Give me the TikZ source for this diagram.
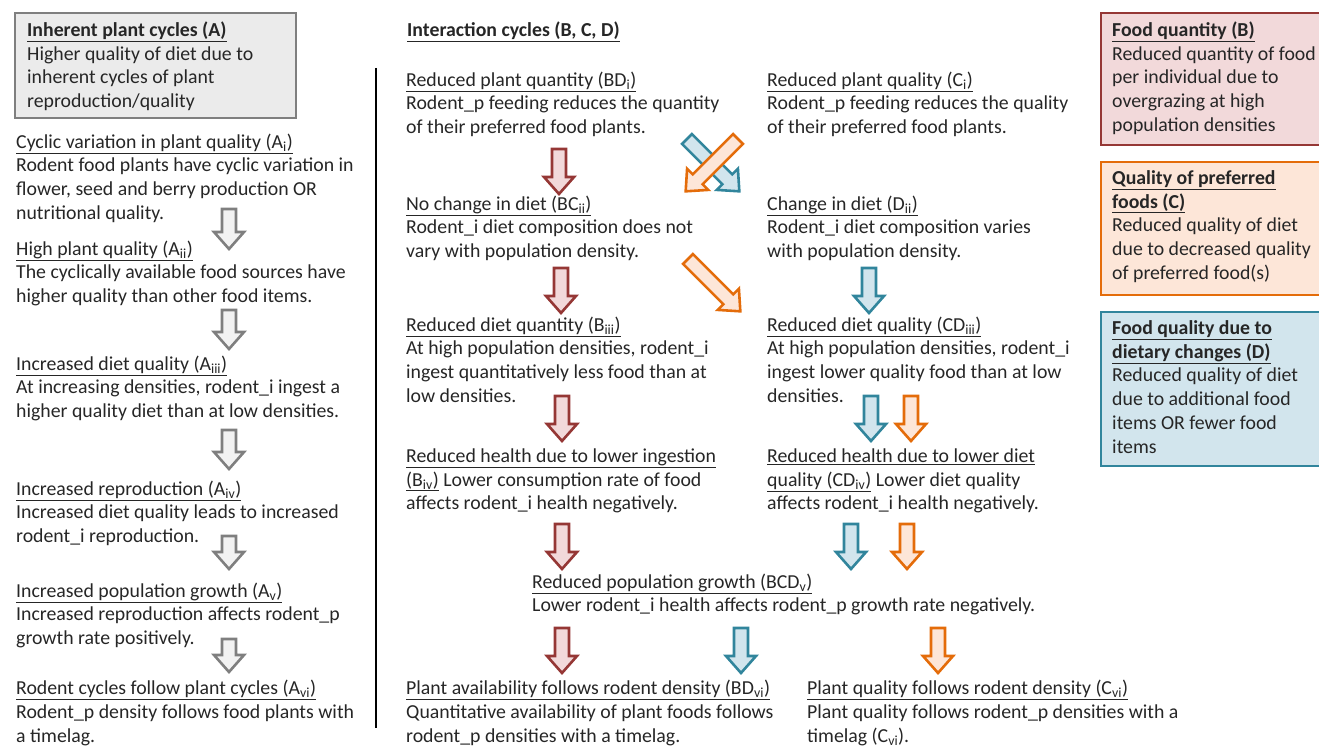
\documentclass[tikz,border=0pt]{standalone}
\usepackage{fontspec}
\setmainfont{Carlito}
\usepackage{tikz}
\usepackage{xcolor}

\definecolor{txtgray}{HTML}{262626}
\definecolor{grayline}{HTML}{7F7F7F}
\definecolor{grayfill}{HTML}{F2F2F2}
\definecolor{grayboxfill}{HTML}{EBEBEB}
\definecolor{redline}{HTML}{953735}
\definecolor{redfill}{HTML}{F2D9DA}
\definecolor{orangeline}{HTML}{E46C0A}
\definecolor{orangefill}{HTML}{FDE6D8}
\definecolor{blueline}{HTML}{31859C}
\definecolor{bluefill}{HTML}{D2E5ED}

\newcommand{\fs}{\fontsize{19.8}{23.7}\selectfont}
\newcommand{\ttl}[1]{\underline{#1}}
\newcommand{\lo}[1]{\textsubscript{#1}}

% Blockpfeil: Stil, x, y, Winkel, Laenge
\newcommand{\blockarrow}[5]{%
\begin{scope}[shift={(#2,#3)}, rotate=#4]
\draw[#1] (0,-7) -- ({#5-17},-7) -- ({#5-17},-15) -- (#5,0)
  -- ({#5-17},15) -- ({#5-17},7) -- (0,7) -- cycle;
\end{scope}}

\tikzset{
  txt/.style={anchor=north west, inner sep=0pt, align=left, font=\fs, text=txtgray},
  grayarr/.style={draw=grayline, fill=grayfill, line width=2.6pt, line join=miter},
  redarr/.style={draw=redline, fill=redfill, line width=2.6pt, line join=miter},
  bluearr/.style={draw=blueline, fill=bluefill, line width=2.6pt, line join=miter},
  orangearr/.style={draw=orangeline, fill=orangefill, line width=2.6pt, line join=miter}
}

\begin{document}
\begin{tikzpicture}[x=1pt, y=-1pt]
\useasboundingbox (0,0) rectangle (1319,746);

% Kaesten
\draw[grayline, fill=grayboxfill, line width=2.6pt] (15,13) rectangle (296,118);
\draw[redline, fill=redfill, line width=2.6pt] (1101,13) rectangle (1340,145);
\draw[orangeline, fill=orangefill, line width=2.6pt] (1101,162) rectangle (1340,295);
\draw[blueline, fill=bluefill, line width=2.6pt] (1101,312) rectangle (1340,466);

\draw[black, line width=1.8pt] (376,68) -- (376,728);

% linke Spalte (A)
\node[txt] (boxA) at (27,21.5) {\textbf{\ttl{Inherent plant cycles (A)}}\\ Higher quality of diet due to\\ inherent cycles of plant\\ reproduction/quality};
\node[txt] (a1) at (16,133.5) {\ttl{Cyclic variation in plant quality (A\lo{i})}\\ Rodent food plants have cyclic variation in\\ flower, seed and berry production OR\\ nutritional quality.};
\node[txt] (a2) at (16,240.5) {\ttl{High plant quality (A\lo{ii})}\\ The cyclically available food sources have\\ higher quality than other food items.};
\node[txt] (a3) at (16,355.5) {\ttl{Increased diet quality (A\lo{iii})}\\ At increasing densities, rodent\_i ingest a\\ higher quality diet than at low densities.};
\node[txt] (a4) at (16,480.5) {\ttl{Increased reproduction (A\lo{iv})}\\ Increased diet quality leads to increased\\ rodent\_i reproduction.};
\node[txt] (a5) at (16,582.5) {\ttl{Increased population growth (A\lo{v})}\\ Increased reproduction affects rodent\_p\\ growth rate positively.};
\node[txt] (a6) at (16,680) {\ttl{Rodent cycles follow plant cycles (A\lo{vi})}\\ Rodent\_p density follows food plants with\\ a timelag.};

\blockarrow{grayarr}{229}{209}{-90}{40}
\blockarrow{grayarr}{229}{310}{-90}{39}
\blockarrow{grayarr}{229}{430}{-90}{39}
\blockarrow{grayarr}{229}{536}{-90}{33}
\blockarrow{grayarr}{229}{639}{-90}{33}

% Mitte (B, C, D)
\node[txt] (ititle) at (407,21.5) {\textbf{\ttl{Interaction cycles (B, C, D)}}};
\node[txt] (bd1) at (406,71.5) {\ttl{Reduced plant quantity (BD\lo{i})}\\ Rodent\_p feeding reduces the quantity\\ of their preferred food plants.};
\node[txt] (bc2) at (406,195.5) {\ttl{No change in diet (BC\lo{ii})}\\ Rodent\_i diet composition does not\\ vary with population density.};
\node[txt] (b3) at (406,316.5) {\ttl{Reduced diet quantity (B\lo{iii})}\\ At high population densities, rodent\_i\\ ingest quantitatively less food than at\\ low densities.};
\node[txt] (b4) at (406,448.5) {\ttl{Reduced health due to lower ingestion}\\ \ttl{(B\lo{iv})} Lower consumption rate of food\\ affects rodent\_i health negatively.};
\node[txt] (bcd5) at (532,573.5) {\ttl{Reduced population growth (BCD\lo{v})}\\ Lower rodent\_i health affects rodent\_p growth rate negatively.};
\node[txt] (bd6) at (406,680) {\ttl{Plant availability follows rodent density (BD\lo{vi})}\\ Quantitative availability of plant foods follows\\ rodent\_p densities with a timelag.};

\node[txt] (c1) at (767,71.5) {\ttl{Reduced plant quality (C\lo{i})}\\ Rodent\_p feeding reduces the quality\\ of their preferred food plants.};
\node[txt] (d2) at (767,195.5) {\ttl{Change in diet (D\lo{ii})}\\ Rodent\_i diet composition varies\\ with population density.};
\node[txt] (cd3) at (767,316.5) {\ttl{Reduced diet quality (CD\lo{iii})}\\ At high population densities, rodent\_i\\ ingest lower quality food than at low\\ densities.};
\node[txt] (cd4) at (767,448.5) {\ttl{Reduced health due to lower diet}\\ \ttl{quality (CD\lo{iv})} Lower diet quality\\ affects rodent\_i health negatively.};
\node[txt] (c6) at (807,680) {\ttl{Plant quality follows rodent density (C\lo{vi})}\\ Plant quality follows rodent\_p densities with a\\ timelag (C\lo{vi}).};

\blockarrow{redarr}{559}{149}{-90}{45}
\blockarrow{redarr}{561}{268}{-90}{45}
\blockarrow{redarr}{562}{396}{-90}{45}
\blockarrow{redarr}{562}{524}{-90}{45}
\blockarrow{redarr}{562}{628}{-90}{45}
\blockarrow{bluearr}{741}{628}{-90}{45}

\blockarrow{bluearr}{687}{139}{-45}{74}
\blockarrow{orangearr}{738}{139}{-135}{74}
\blockarrow{orangearr}{688}{259}{-45}{74}

\blockarrow{bluearr}{869}{268}{-90}{45}
\blockarrow{bluearr}{871}{396}{-90}{45}
\blockarrow{orangearr}{911}{396}{-90}{45}
\blockarrow{bluearr}{851}{524}{-90}{45}
\blockarrow{orangearr}{907}{524}{-90}{45}
\blockarrow{orangearr}{938}{628}{-90}{45}

% rechte Kaesten
\node[txt] (boxB) at (1112,21.5) {\textbf{\ttl{Food quantity (B)}}\\ Reduced quantity of food\\ per individual due to\\ overgrazing at high\\ population densities};
\node[txt] (boxC) at (1112,170.5) {\textbf{\ttl{Quality of preferred}}\\ \textbf{\ttl{foods (C)}}\\ Reduced quality of diet\\ due to decreased quality\\ of preferred food(s)};
\node[txt] (boxD) at (1112,320.5) {\textbf{\ttl{Food quality due to}}\\ \textbf{\ttl{dietary changes (D)}}\\ Reduced quality of diet\\ due to additional food\\ items OR fewer food\\ items};
\end{tikzpicture}
\end{document}
